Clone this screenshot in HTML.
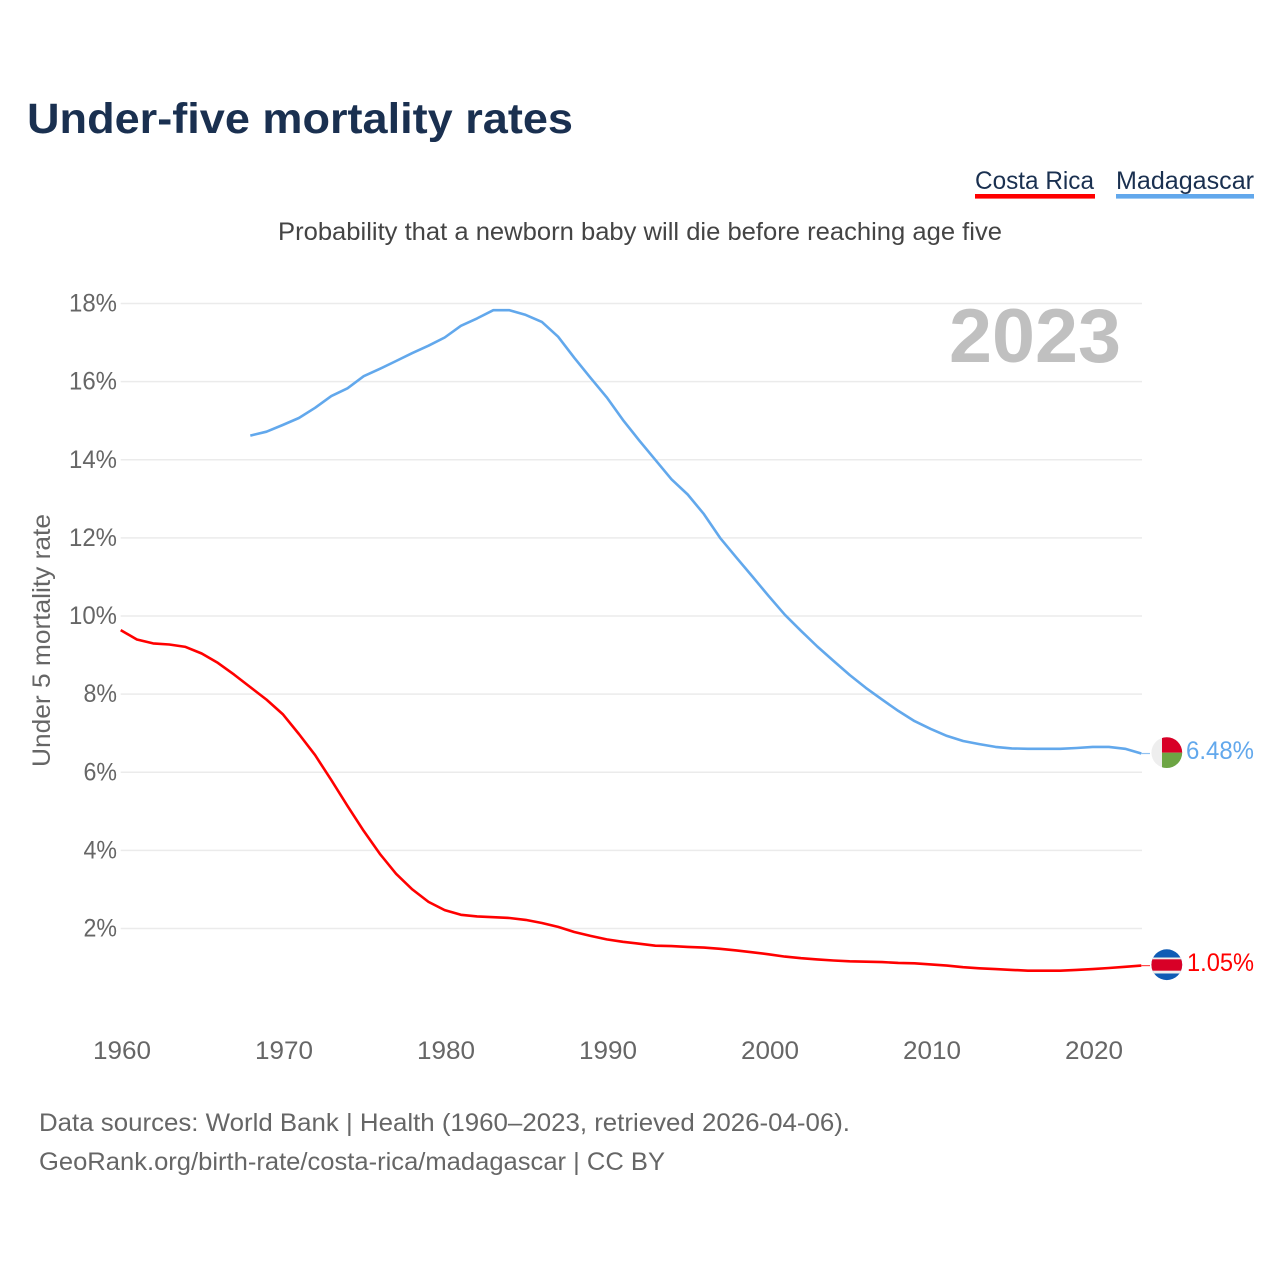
<!DOCTYPE html>
<html lang="en">
<head>
<meta charset="utf-8">
<title>Under-five mortality rates</title>
<style>
html,body{margin:0;padding:0;background:#fff;}
svg{display:block;font-family:"Liberation Sans",sans-serif;}
</style>
</head>
<body>
<svg id="chart" xmlns="http://www.w3.org/2000/svg" width="1280" height="1280" viewBox="0 0 1280 1280">
<rect width="1280" height="1280" fill="#fff"/>
<text x="27" y="133" font-size="43" font-weight="700" fill="#1a3050" textLength="546" lengthAdjust="spacingAndGlyphs">Under-five mortality rates</text>
<g>
<text x="975" y="189" font-size="25" fill="#1a3050" textLength="119" lengthAdjust="spacingAndGlyphs">Costa Rica</text>
<rect x="975" y="194" width="120" height="4.6" fill="#ff0000"/>
</g>
<g>
<text x="1116" y="189" font-size="25" fill="#1a3050" textLength="138" lengthAdjust="spacingAndGlyphs">Madagascar</text>
<rect x="1116" y="194" width="138" height="4.6" fill="#62a8ec"/>
</g>
<text x="278" y="240" font-size="25" fill="#444" textLength="724" lengthAdjust="spacingAndGlyphs">Probability that a newborn baby will die before reaching age five</text>
<g id="grid"></g>
<g id="yticks"></g>
<g id="xticks"></g>
<text transform="translate(50,767) rotate(-90)" font-size="25" fill="#666" textLength="253" lengthAdjust="spacingAndGlyphs">Under 5 mortality rate</text>
<text x="949" y="362" font-size="76" font-weight="700" fill="#c0c0c0" textLength="172" lengthAdjust="spacingAndGlyphs">2023</text>
<g id="series"></g>
<defs>
<clipPath id="clip-mg"><circle cx="1166.8" cy="752.6" r="15.4"/></clipPath>
<clipPath id="clip-cr"><circle cx="1166.8" cy="964.7" r="15.4"/></clipPath>
</defs>
<g clip-path="url(#clip-mg)">
<rect x="1151" y="737" width="32" height="32" fill="#eeeeee"/>
<rect x="1162" y="737" width="21" height="15.7" fill="#d80027"/>
<rect x="1162" y="752.7" width="21" height="16" fill="#6da544"/>
</g>
<g clip-path="url(#clip-cr)">
<rect x="1151" y="949" width="32" height="32" fill="#0f5cb5"/>
<rect x="1151" y="957.5" width="32" height="16" fill="#eeeeee"/>
<rect x="1151" y="959.3" width="32" height="11.4" fill="#d80027"/>
</g>
<text x="1186" y="759" font-size="25" fill="#62a8ec" textLength="68" lengthAdjust="spacingAndGlyphs">6.48%</text>
<text x="1187" y="971" font-size="25" fill="#ff0000" textLength="67" lengthAdjust="spacingAndGlyphs">1.05%</text>
<text x="39" y="1131" font-size="25" fill="#666" textLength="811" lengthAdjust="spacingAndGlyphs">Data sources: World Bank | Health (1960–2023, retrieved 2026-04-06).</text>
<text x="39" y="1170" font-size="25" fill="#666" textLength="626" lengthAdjust="spacingAndGlyphs">GeoRank.org/birth-rate/costa-rica/madagascar | CC BY</text>
</svg>
<script>
const yTickValues = [2, 4, 6, 8, 10, 12, 14, 16, 18];
const xTickYears = [1960, 1970, 1980, 1990, 2000, 2010, 2020];
const costaRicaStartYear = 1960;
const costaRicaValues = [9.64,9.40,9.30,9.27,9.21,9.04,8.80,8.50,8.18,7.86,7.49,6.98,6.44,5.80,5.14,4.50,3.91,3.40,3.00,2.68,2.47,2.35,2.31,2.29,2.27,2.22,2.14,2.04,1.91,1.81,1.72,1.66,1.61,1.56,1.55,1.53,1.51,1.48,1.44,1.39,1.34,1.28,1.24,1.21,1.18,1.16,1.15,1.14,1.12,1.11,1.08,1.05,1.01,0.98,0.96,0.94,0.92,0.92,0.92,0.94,0.96,0.99,1.02,1.05];
const madagascarStartYear = 1968;
const madagascarValues = [14.62,14.72,14.89,15.07,15.33,15.63,15.83,16.14,16.33,16.53,16.73,16.92,17.13,17.43,17.62,17.83,17.83,17.71,17.53,17.15,16.61,16.10,15.60,15.02,14.50,14.00,13.50,13.11,12.61,12.00,11.50,11.01,10.51,10.03,9.62,9.22,8.85,8.49,8.16,7.86,7.57,7.31,7.11,6.93,6.80,6.72,6.65,6.61,6.60,6.60,6.60,6.62,6.65,6.65,6.60,6.48];

const NS = 'http://www.w3.org/2000/svg';
function xScale(year) { return 120.7 + (year - 1960) * 16.2; }
function yScale(value) { return 928.5 - (value - 2) * 39.06; }

const gridGroup = document.getElementById('grid');
const yGroup = document.getElementById('yticks');
const xGroup = document.getElementById('xticks');
const seriesGroup = document.getElementById('series');

yTickValues.forEach(function (v) {
  const line = document.createElementNS(NS, 'line');
  
  
  line.setAttribute('x1', xScale(1960));
  line.setAttribute('x2', 1142);
  line.setAttribute('y1', yScale(v));
  line.setAttribute('y2', yScale(v));
  line.setAttribute('stroke', '#ebebeb');
  line.setAttribute('stroke-width', '1.5');
  gridGroup.appendChild(line);

  const label = document.createElementNS(NS, 'text');
  const str = v + '%';
  
  
  label.setAttribute('x', 117);
  label.setAttribute('y', yScale(v) + 8);
  label.setAttribute('text-anchor', 'end');
  label.setAttribute('font-size', '25');
  label.setAttribute('fill', '#666');
  label.setAttribute('textLength', (str.length - 1) * 14.5 + 19);
  label.setAttribute('lengthAdjust', 'spacingAndGlyphs');
  label.textContent = str;
  yGroup.appendChild(label);
});

xTickYears.forEach(function (yr) {
  const label = document.createElementNS(NS, 'text');
  
  
  label.setAttribute('x', xScale(yr) + 1.3);
  label.setAttribute('y', 1059);
  label.setAttribute('text-anchor', 'middle');
  label.setAttribute('font-size', '25');
  label.setAttribute('fill', '#666');
  label.setAttribute('textLength', 58);
  label.setAttribute('lengthAdjust', 'spacingAndGlyphs');
  label.textContent = String(yr);
  xGroup.appendChild(label);
});

function drawSeries(name, startYear, values, color) {
  const pts = values.map(function (v, i) {
    return xScale(startYear + i).toFixed(1) + ',' + yScale(v).toFixed(1);
  });
  const path = document.createElementNS(NS, 'polyline');
  
  
  path.setAttribute('points', pts.join(' '));
  path.setAttribute('fill', 'none');
  path.setAttribute('stroke', color);
  path.setAttribute('stroke-width', '2.6');
  path.setAttribute('stroke-linejoin', 'round');
  seriesGroup.appendChild(path);

  const last = values[values.length - 1];
  const lastYear = startYear + values.length - 1;
  const lead = document.createElementNS(NS, 'line');
  
  
  lead.setAttribute('x1', xScale(lastYear));
  lead.setAttribute('x2', 1150);
  lead.setAttribute('y1', yScale(last));
  lead.setAttribute('y2', yScale(last));
  lead.setAttribute('stroke', color);
  lead.setAttribute('stroke-width', '1.2');
  lead.setAttribute('opacity', '0.7');
  seriesGroup.appendChild(lead);
}
drawSeries('madagascar', madagascarStartYear, madagascarValues, '#62a8ec');
drawSeries('costa-rica', costaRicaStartYear, costaRicaValues, '#ff0000');
</script>
</body>
</html>
